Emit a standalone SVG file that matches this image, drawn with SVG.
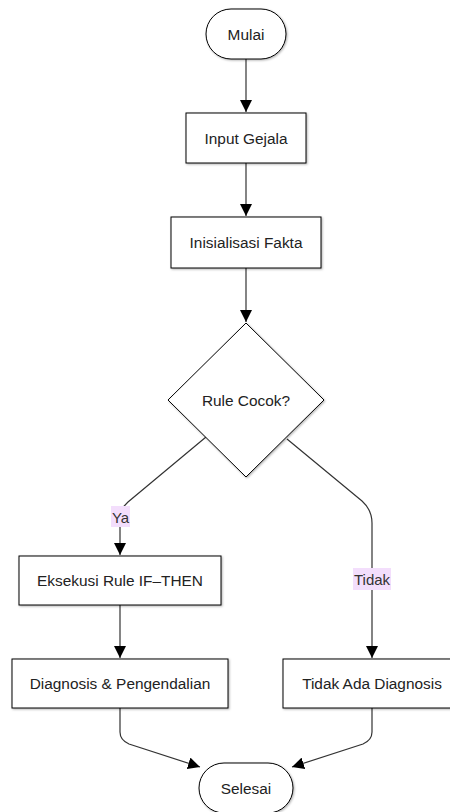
<svg xmlns="http://www.w3.org/2000/svg" width="450" height="812" viewBox="0 0 450 812">
<style>
.node{fill:#fff;stroke:#000;stroke-width:1;filter:url(#sh)}
.t{font-family:"Liberation Sans",Arial,sans-serif;font-size:15.4px;fill:#222;text-anchor:middle;dominant-baseline:central}
.edge{fill:none;stroke:#333;stroke-width:1.2;marker-end:url(#arr)}
.lbg{fill:#f3defc}
.lt{font-family:"Liberation Sans",Arial,sans-serif;font-size:15px;fill:#333;text-anchor:middle;dominant-baseline:central}
</style>
<defs>
<filter id="sh" x="-10%" y="-10%" width="130%" height="130%">
<feDropShadow dx="1" dy="1" stdDeviation="0.8" flood-color="#000" flood-opacity="0.3"/>
</filter>
<marker id="arr" markerUnits="userSpaceOnUse" markerWidth="12" markerHeight="12" refX="12" refY="6" orient="auto">
<path d="M0,0 L12,6 L0,12 z" fill="#000"/>
</marker>
</defs>
<rect width="450" height="812" fill="#fff"/>
<g id="connectors">
<path class="edge" d="M246,59 L246,112"/>
<path class="edge" d="M246,163 L246,216"/>
<path class="edge" d="M246,268 L246,322"/>
<path class="edge" d="M206,437 L128,502 Q120,509 120,519 L120,555"/>
<path class="edge" d="M287,439 L362,501 Q372,510 372,523 L372,658"/>
<path class="edge" d="M120,605 L120,658"/>
<path class="edge" d="M120,708 L120,732 Q120,740 129,744 L200,767"/>
<path class="edge" d="M372,708 L372,732 Q372,740 363,744 L292,767"/>
</g>
<g id="labels">
<g id="label-ya">
<rect class="lbg" x="111" y="506" width="19" height="21"/>
<text class="lt" x="120.5" y="517">Ya</text>
</g>
<g id="label-tidak">
<rect class="lbg" x="353" y="568" width="38" height="22"/>
<text class="lt" x="372" y="579">Tidak</text>
</g>
</g>
<g id="mulai">
<rect class="node" x="206" y="9" width="80" height="50" rx="25" ry="25"/>
<text class="t" x="246" y="34">Mulai</text>
</g>
<g id="input-gejala">
<rect class="node" x="186" y="113" width="120" height="50"/>
<text class="t" x="246" y="138">Input Gejala</text>
</g>
<g id="inisialisasi-fakta">
<rect class="node" x="171" y="217" width="150" height="51"/>
<text class="t" x="246" y="242">Inisialisasi Fakta</text>
</g>
<g id="rule-cocok">
<polygon class="node" points="246,323 324,400 246,477 168,400"/>
<text class="t" x="246" y="400">Rule Cocok?</text>
</g>
<g id="eksekusi-rule">
<rect class="node" x="19" y="556" width="202" height="49"/>
<text class="t" x="120" y="580">Eksekusi Rule IF–THEN</text>
</g>
<g id="diagnosis-pengendalian">
<rect class="node" x="12" y="659" width="216" height="49"/>
<text class="t" x="120" y="683">Diagnosis &amp; Pengendalian</text>
</g>
<g id="tidak-ada-diagnosis">
<rect class="node" x="283" y="659" width="178" height="49"/>
<text class="t" x="372" y="683">Tidak Ada Diagnosis</text>
</g>
<g id="selesai">
<rect class="node" x="199" y="763" width="94" height="50" rx="25" ry="25"/>
<text class="t" x="246" y="788">Selesai</text>
</g>
</svg>
